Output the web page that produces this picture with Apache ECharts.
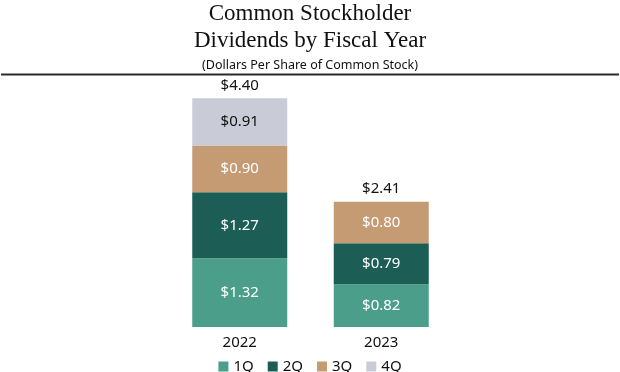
<!DOCTYPE html>
<html><head><meta charset="utf-8">
<script src="https://cdn.jsdelivr.net/npm/echarts@6/dist/echarts.min.js"></script>
<style>html,body{margin:0;padding:0;background:#fff}#c{width:620px;height:372px}</style>
</head><body><div id="c"></div>
<script>
var years = ['2022', '2023'];
var q1 = [1.32, 0.82];
var q2 = [1.27, 0.79];
var q3 = [0.90, 0.80];
var q4 = [0.91, null];
var totals = [4.40, 2.41];
var seriesNames = ['1Q', '2Q', '3Q', '4Q'];
var colors = ['#4b9e89', '#1c5d56', '#c49b73', '#c9ccd6'];
var labelColors = ['#ffffff', '#ffffff', '#ffffff', '#111111'];
var quarters = [q1, q2, q3, q4];

var chart = echarts.init(document.getElementById('c'));
var series = quarters.map(function (d, i) {
  return {
    name: seriesNames[i], type: 'bar', stack: 'a', barWidth: 95,
    data: d, itemStyle: { color: colors[i] },
    label: { show: true, position: 'inside', color: labelColors[i],
      fontFamily: 'Noto Sans', fontSize: 15,
      formatter: function (p) { return '$' + p.value.toFixed(2); } }
  };
});
series.push({
  name: 'total', type: 'bar', stack: 'a', barWidth: 95,
  data: totals.map(function () { return 0; }),
  label: { show: true, position: 'top', distance: 5, color: '#111',
    fontFamily: 'Noto Sans', fontSize: 15,
    formatter: function (p) { return '$' + totals[p.dataIndex].toFixed(2); } }
});
chart.setOption({
  animation: false,
  title: {
    text: 'Common Stockholder\nDividends by Fiscal Year',
    subtext: '(Dollars Per Share of Common Stock)',
    left: 'center', top: 0, padding: 0, itemGap: 5,
    textStyle: { fontFamily: 'Liberation Serif', fontSize: 23, fontWeight: 'normal', color: '#111', lineHeight: 27 },
    subtextStyle: { fontFamily: 'Noto Sans', fontSize: 12.5, color: '#111' }
  },
  graphic: [{ type: 'line', shape: { x1: 1, y1: 74.5, x2: 619, y2: 74.5 }, style: { stroke: '#2a2a2a', lineWidth: 2 } }],
  legend: {
    data: seriesNames, top: 354, left: 'center', itemWidth: 10, itemHeight: 10, itemGap: 14,
    icon: 'rect',
    textStyle: { fontFamily: 'Noto Sans', fontSize: 15, color: '#111' }
  },
  grid: { left: 169, right: 168, top: 67, bottom: 45 },
  xAxis: { type: 'category', data: years, axisLine: { show: false }, axisTick: { show: false },
    axisLabel: { color: '#111', fontFamily: 'Noto Sans', fontSize: 15, margin: 8 } },
  yAxis: { type: 'value', min: 0, max: 5, show: false, splitLine: { show: false } },
  series: series
});
</script></body></html>
